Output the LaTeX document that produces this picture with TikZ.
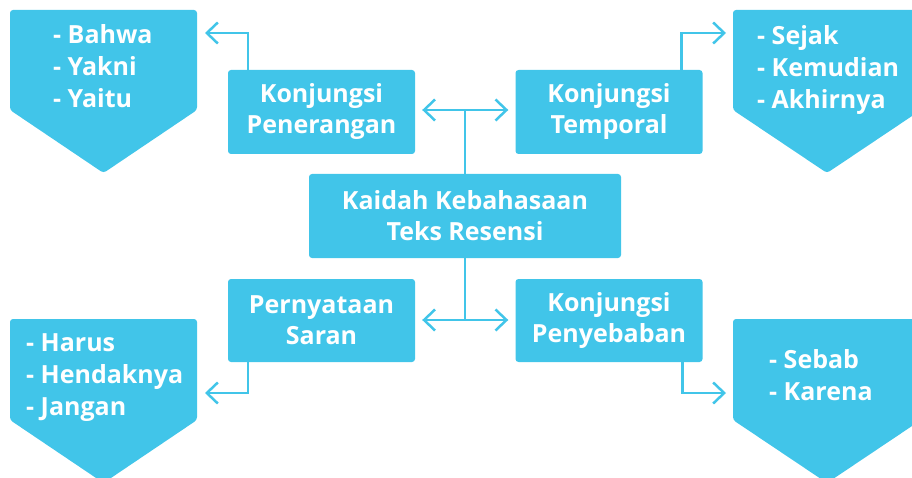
\documentclass[tikz,border=0pt]{standalone}
\usepackage{fontspec}
\setmainfont{Open Sans}
\usetikzlibrary{positioning,arrows.meta}
\definecolor{kaidahblue}{HTML}{41C5E9}

\begin{document}
\begin{tikzpicture}[
    x=1pt, y=-1pt,
    topicbox/.style={
        fill=kaidahblue,
        rounded corners=3pt,
        text=white,
        align=center,
        inner sep=0pt,
        minimum width=187pt,
        minimum height=84pt,
        font=\fontsize{25}{31}\selectfont\bfseries
    },
    listtext/.style={text=white, align=left, anchor=west, inner sep=0pt,
        font=\fontsize{25}{32}\selectfont\bfseries},
    pentagon/.style={fill=kaidahblue, rounded corners=3pt},
    link/.style={draw=kaidahblue, line width=2.5pt, line join=miter,
        -{Straight Barb[length=11pt,width=21pt]}},
    twoway/.style={link, {Straight Barb[length=11pt,width=21pt]}-{Straight Barb[length=11pt,width=21pt]}}
]
\useasboundingbox (0,0) rectangle (912,478);
\clip (0,0) rectangle (912,478);

% pentagon lists
\fill[pentagon] (10,10) -- (197,10) -- (197,110) -- (103.5,173) -- (10,110) -- cycle;
\fill[pentagon] (733,10) -- (921,10) -- (921,110) -- (827,173) -- (733,110) -- cycle;
\fill[pentagon] (10,319) -- (197,319) -- (197,420) -- (103.5,483) -- (10,420) -- cycle;
\fill[pentagon] (733,319) -- (921,319) -- (921,420) -- (827,483) -- (733,420) -- cycle;

\node[listtext] (listpenerangan) at (53,66) {- Bahwa\\- Yakni\\- Yaitu};
\node[listtext] (listtemporal) at (757,70) {- Sejak\\- Kemudian\\- Akhirnya};
\node[listtext] (listsaran) at (26,378) {- Harus\\- Hendaknya\\- Jangan};
\node[listtext] (listpenyebaban) at (769,375) {- Sebab\\- Karena};

% topic boxes
\node[topicbox, minimum width=312pt] (kaidah) at (465,216) {Kaidah Kebahasaan\\Teks Resensi};
\node[topicbox] (penerangan) at (321.5,112) {Konjungsi\\Penerangan};
\node[topicbox] (temporal) at (609,112) {Konjungsi\\Temporal};
\node[topicbox, minimum height=83pt] (saran) at (321.5,320.5) {Pernyataan\\Saran};
\node[topicbox, minimum height=83pt] (penyebaban) at (609,320.5) {Konjungsi\\Penyebaban};

\coordinate (tippenerangan) at (205,33);
\coordinate (tiptemporal) at (726,33);
\coordinate (tipsaran) at (205,393);
\coordinate (tippenyebaban) at (726,393);
\coordinate (hubatas) at (465,110);
\coordinate (hubbawah) at (465,320);

\draw[link] ([xshift=20pt]penerangan.north west) |- (tippenerangan);
\draw[link] ([xshift=-21pt]temporal.north east) |- (tiptemporal);
\draw[link] ([xshift=20pt]saran.south west) |- (tipsaran);
\draw[link] ([xshift=-20pt]penyebaban.south east) |- (tippenyebaban);

\draw[draw=kaidahblue, line width=2.5pt] (kaidah.north) -- (hubatas);
\draw[draw=kaidahblue, line width=2.5pt] (kaidah.south) -- (hubbawah);
\draw[twoway] ([xshift=7pt]penerangan.east |- hubatas) -- ([xshift=-7pt]temporal.west |- hubatas);
\draw[twoway] ([xshift=7pt]saran.east |- hubbawah) -- ([xshift=-7pt]penyebaban.west |- hubbawah);

\end{tikzpicture}
\end{document}
